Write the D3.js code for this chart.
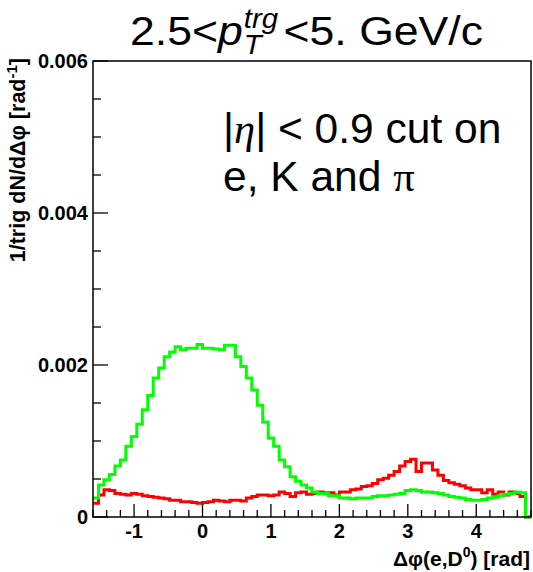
<!DOCTYPE html>
<html><head><meta charset="utf-8">
<script src="https://cdn.jsdelivr.net/npm/d3@7"></script>
<style>
html,body{margin:0;padding:0;background:#fff;}
svg{display:block;}
text{font-family:"Liberation Sans",Arial,Helvetica,sans-serif;fill:#000;}
</style></head>
<body>
<script>
// ---- data ----
const binStart = -1.6;
const binWidth = 0.08;
const greenValues = [
0.00025,0.00042,0.00049,0.00056,0.00067,0.00075,0.00093,0.00106,0.00122,0.00141,
0.00160,0.00183,0.00196,0.00211,0.00217,0.00224,0.00220,0.00222,0.00222,0.00227,
0.00222,0.00222,0.00221,0.00220,0.00226,0.00226,0.00211,0.00198,0.00183,0.00167,
0.00147,0.00125,0.00104,0.00093,0.00075,0.00066,0.00053,0.00047,0.00042,0.00038,
0.00033,0.00031,0.00031,0.00028,0.00028,0.00025,0.00025,0.00024,0.00025,0.00025,
0.00025,0.00027,0.00028,0.00028,0.00029,0.00030,0.00031,0.00035,0.00036,0.00035,
0.00033,0.00033,0.00032,0.00031,0.00029,0.00027,0.00026,0.00025,0.00023,0.00022,
0.00022,0.00023,0.00025,0.00026,0.00028,0.00030,0.00031,0.00033,0.00032,0
];
const redValues = [
0.00018,0.00029,0.00036,0.00035,0.00031,0.00030,0.00029,0.00031,0.00030,0.00028,
0.00027,0.00026,0.00025,0.00024,0.00022,0.00022,0.00020,0.00020,0.00019,0.00018,
0.00019,0.00020,0.00022,0.00021,0.00020,0.00022,0.00022,0.00021,0.00025,0.00027,
0.00029,0.00029,0.00028,0.00029,0.00033,0.00031,0.00027,0.00032,0.00033,0.00030,
0.00031,0.00033,0.00032,0.00032,0.00029,0.00033,0.00033,0.00036,0.00037,0.00040,
0.00041,0.00044,0.00049,0.00051,0.00055,0.00060,0.00067,0.00073,0.00076,0.00060,
0.00071,0.00071,0.00062,0.00055,0.00048,0.00045,0.00043,0.00041,0.00038,0.00036,
0.00036,0.00032,0.00036,0.00030,0.00033,0.00029,0.00033,0.00031,0.00027,0
];
const xTickValues = [-1, 0, 1, 2, 3, 4];
const xTickLabels = ["-1", "0", "1", "2", "3", "4"];
const yTickValues = [0, 0.002, 0.004, 0.006];
const yTickLabels = ["0", "0.002", "0.004", "0.006"];

// ---- layout ----
const W = 533, H = 572;
const L = 93, R = 531, T = 61, B = 517;
const svg = d3.select("body").append("svg").attr("width", W).attr("height", H);

const nBins = greenValues.length;
const x = d3.scaleLinear().domain([binStart, binStart + nBins * binWidth]).range([L, R]);
const y = d3.scaleLinear().domain([0, 0.006]).range([B, T]);

function stepPath(vals) {
  const p = d3.path();
  vals.forEach((v, i) => {
    const x0 = x(binStart + i * binWidth), x1 = x(binStart + (i + 1) * binWidth);
    if (i === 0) p.moveTo(x0, y(v)); else p.lineTo(x0, y(v));
    p.lineTo(x1, y(v));
  });
  return p.toString();
}

svg.append("path").attr("d", stepPath(redValues)).attr("fill", "none")
  .attr("stroke", "#ff0000").attr("stroke-width", 3);
svg.append("path").attr("d", stepPath(greenValues)).attr("fill", "none")
  .attr("stroke", "#00ff00").attr("stroke-width", 3);

// frame
svg.append("rect").attr("x", L).attr("y", T).attr("width", R - L).attr("height", B - T)
  .attr("fill", "none").attr("stroke", "#000").attr("stroke-width", 1.5);

// x ticks
const xMinor = d3.range(-1.6, 4.81, 0.2).filter(v => Math.abs(v - Math.round(v)) > 1e-6);
svg.append("g").selectAll("line").data(xMinor).join("line")
  .attr("x1", d => x(d)).attr("x2", d => x(d)).attr("y1", B).attr("y2", B - 7)
  .attr("stroke", "#000").attr("stroke-width", 1.3);
svg.append("g").selectAll("line").data(xTickValues).join("line")
  .attr("x1", d => x(d)).attr("x2", d => x(d)).attr("y1", B).attr("y2", B - 13)
  .attr("stroke", "#000").attr("stroke-width", 1.3);
svg.append("g").selectAll("text").data(xTickValues).join("text")
  .attr("x", d => x(d)).attr("y", 538).attr("text-anchor", "middle")
  .attr("font-size", 20).attr("font-weight", "bold")
  .text((d, i) => xTickLabels[i]);

// y ticks
const yMinor = d3.range(0, 0.00601, 0.0005).filter(v => Math.abs(v / 0.002 - Math.round(v / 0.002)) > 1e-6);
svg.append("g").selectAll("line").data(yMinor).join("line")
  .attr("x1", L).attr("x2", L + 8).attr("y1", d => y(d)).attr("y2", d => y(d))
  .attr("stroke", "#000").attr("stroke-width", 1.3);
svg.append("g").selectAll("line").data(yTickValues).join("line")
  .attr("x1", L).attr("x2", L + 15).attr("y1", d => y(d)).attr("y2", d => y(d))
  .attr("stroke", "#000").attr("stroke-width", 1.3);
svg.append("g").selectAll("text").data(yTickValues).join("text")
  .attr("x", 88).attr("y", d => y(d) + 7).attr("text-anchor", "end")
  .attr("font-size", 20).attr("font-weight", "bold")
  .text((d, i) => yTickLabels[i]);

// axis titles
const yt = svg.append("text").attr("transform", "translate(25,58) rotate(-90)")
  .attr("text-anchor", "end").attr("font-size", 21.5).attr("font-weight", "bold");
yt.append("tspan").text("1/trig dN/d\u0394\u03C6 [rad");
yt.append("tspan").attr("font-size", 15).attr("dy", -8).text("-1");
yt.append("tspan").attr("dy", 8).text("]");

const xt = svg.append("text").attr("x", 530).attr("y", 566)
  .attr("text-anchor", "end").attr("font-size", 21).attr("font-weight", "bold");
xt.append("tspan").text("\u0394\u03C6(e,D");
xt.append("tspan").attr("font-size", 14).attr("dy", -9).text("0");
xt.append("tspan").attr("dy", 9).text(") [rad]");

// title with stacked sub/superscript
const tg = svg.append("g");
let cx = 0;
function piece(t, size, style, dy) {
  const el = tg.append("text").attr("x", cx).attr("y", 45 + dy)
    .attr("font-size", size).attr("font-style", style || "normal").text(t);
  return el.node().getComputedTextLength();
}
cx += piece("2.5<", 41, "normal", 0);
cx += piece("p", 41, "italic", 0) + 1;
const wSub = piece("T", 27, "italic", 9);
const wSup = piece("trg", 27, "italic", -17);
cx += Math.max(wSub, wSup) + 5;
cx += piece("<5. GeV/c", 41, "normal", 0);
const titleLeft = 130, titleRight = 483;
const sx = (titleRight - titleLeft) / cx;
tg.attr("transform", `translate(${titleLeft},0) scale(${sx},1)`);

// annotation
const serif = "'Liberation Serif','DejaVu Serif',serif";
const a1 = svg.append("text").attr("x", 223).attr("y", 143).attr("font-size", 42.5);
a1.append("tspan").text("|");
a1.append("tspan").style("font-family", serif).attr("font-style", "italic").text("\u03B7");
a1.append("tspan").text("| < 0.9 cut on");
const a2 = svg.append("text").attr("x", 223).attr("y", 191).attr("font-size", 42.5);
a2.append("tspan").text("e, K and ");
a2.append("tspan").style("font-family", serif).text("\u03C0");
</script>
</body></html>
